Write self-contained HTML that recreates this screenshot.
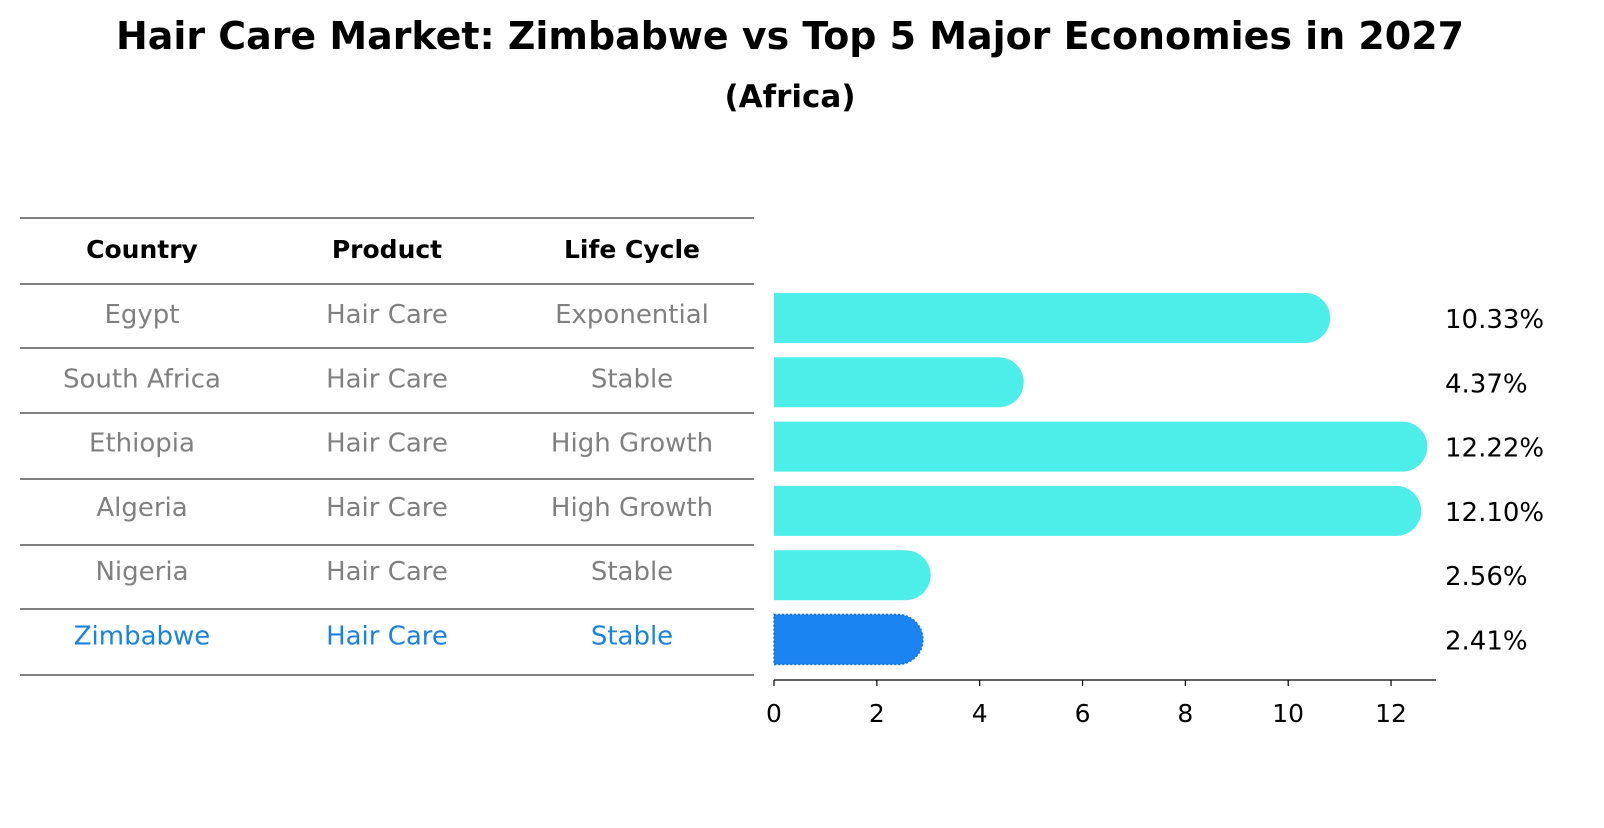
<!DOCTYPE html>
<html><head><meta charset="utf-8"><style>
body{margin:0;background:#fff;font-family:"Liberation Sans","DejaVu Sans",sans-serif;}
</style></head><body>
<svg width="1604" height="823" xmlns="http://www.w3.org/2000/svg" font-family="DejaVu Sans, Liberation Sans, sans-serif">
<text x="790" y="49" text-anchor="middle" font-size="38" font-weight="bold" textLength="1348" lengthAdjust="spacingAndGlyphs">Hair Care Market: Zimbabwe vs Top 5 Major Economies in 2027</text>
<text x="790" y="107" text-anchor="middle" font-size="31" font-weight="bold">(Africa)</text>
<g id="table"></g>
<g id="bars"></g>
</svg>
<script>
const countries=["Egypt","South Africa","Ethiopia","Algeria","Nigeria","Zimbabwe"];
const products=["Hair Care","Hair Care","Hair Care","Hair Care","Hair Care","Hair Care"];
const lifecycles=["Exponential","Stable","High Growth","High Growth","Stable","Stable"];
const values=[10.33,4.37,12.22,12.10,2.56,2.41];
const valueLabels=["10.33%","4.37%","12.22%","12.10%","2.56%","2.41%"];
const ticks=[0,2,4,6,8,10,12];
const NS="http://www.w3.org/2000/svg";
function mk(p,t,a){const e=document.createElementNS(NS,t);for(const k in a)e.setAttribute(k,a[k]);p.appendChild(e);return e;}
const tbl=document.getElementById('table'),bars=document.getElementById('bars');
const x0=774,ppu=51.42;
const xs=v=>x0+v*ppu;
const rowY=i=>318+i*64.3;
const lineYs=[218,284,348,413,479,545,609,675];
lineYs.forEach((y,i)=>{const l=mk(tbl,'line',{x1:20,x2:754,y1:y,y2:y,stroke:'#000','stroke-width':1});

});
const colX=[142,387,632];
["Country","Product","Life Cycle"].forEach((h,j)=>{const t=mk(tbl,'text',{x:colX[j],y:258,'text-anchor':'middle','font-size':25,'font-weight':'bold'});t.textContent=h;

});
countries.forEach((c,i)=>{
 const col=i===countries.length-1?'#1a82e0':'#808080';
 [c,products[i],lifecycles[i]].forEach((s,j)=>{const t=mk(tbl,'text',{x:colX[j],y:rowY(i)+5,'text-anchor':'middle','font-size':26,fill:col});t.textContent=s;
 
 });
 const zim=i===countries.length-1;
 const xe=xs(values[i]),y=rowY(i),h=50,r=25;
 const p=mk(bars,'path',{d:`M${x0},${y-h/2} H${xe} A${r},${r} 0 0 1 ${xe},${y+h/2} H${x0} Z`,fill:zim?'#1a84f2':'#4deeea',stroke:zim?'#1570d8':'none','stroke-dasharray':zim?'2,2':'none','stroke-width':zim?1.5:0});
 
 
 const t=mk(bars,'text',{x:1445,y:y+10,'font-size':26});t.textContent=valueLabels[i];
 
 
});
const ax=mk(bars,'line',{x1:x0,x2:1436,y1:680,y2:680,stroke:'#000','stroke-width':1.2});


ticks.forEach(v=>{const l=mk(bars,'line',{x1:xs(v),x2:xs(v),y1:680,y2:686,stroke:'#000','stroke-width':1.2});


const t=mk(bars,'text',{x:xs(v),y:722,'text-anchor':'middle','font-size':25});t.textContent=v;

});
</script>
</body></html>
